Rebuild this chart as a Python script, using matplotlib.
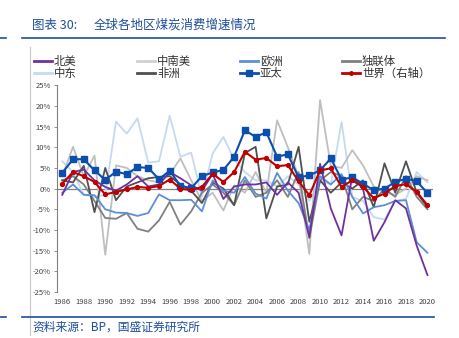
import matplotlib
matplotlib.use("Agg")
import matplotlib.pyplot as plt
from matplotlib.lines import Line2D
import numpy as np

plt.rcParams['font.family'] = ['Noto Sans CJK SC', 'DejaVu Sans']

years = np.arange(1986, 2021)

# 各地区煤炭消费增速 (%)
north_america = [-1.5, 4.0, 4.6, 2.0, 0.4, -0.5, 1.0, 3.0, 0.5, 1.0,
                 4.0, 2.5, 0.8, -0.5, 3.5, -2.5, 0.5, 1.0, 1.0, 1.5,
                 -1.5, 1.5, -1.0, -11.7, 6.0, -4.8, -11.3, 3.0, 0.0, -12.6,
                 -8.1, -2.8, -4.8, -13.8, -20.9]
south_america = [3.0, 10.1, 3.0, 8.0, -16.0, 5.6, 5.0, 3.0, 2.0, 1.5,
                 3.5, 7.3, 2.0, -3.0, -1.0, -5.3, 0.8, -1.0, 4.0, -1.0,
                 16.5, 10.0, 3.0, -15.8, 21.4, 5.5, 5.0, 9.3, 5.6, 0.5,
                 -1.0, -1.5, 0.0, 3.0, 2.0]
europe = [-1.0, 1.0, -1.5, -1.6, -5.0, -5.8, -5.9, -6.6, -5.9, -1.4,
          -2.8, -2.8, -2.7, -5.5, 2.0, -0.5, -1.0, 2.8, -1.2, -2.4,
          3.8, -0.5, -3.5, -10.0, 3.0, 1.0, 3.5, -2.0, -6.0, -4.5,
          -4.0, -3.0, -2.8, -13.0, -15.5]
cis = [2.0, 3.0, 1.0, -3.0, -7.1, -7.3, -5.9, -9.7, -10.4, -7.7,
       -3.2, -8.7, -5.5, -1.0, 1.0, -1.0, -4.0, 2.0, -2.0, -1.0,
       2.0, -2.0, 4.0, -12.0, 2.0, 4.0, 3.0, -5.0, -2.0, -3.0,
       0.0, -2.0, 3.0, -2.0, -5.0]
middle_east = [6.6, 4.0, -1.5, -2.0, -1.5, 16.2, 13.3, 17.0, 6.3, 6.6,
               17.6, 7.7, 8.7, -2.0, 8.5, 12.5, 7.0, 4.0, 2.0, 2.0,
               0.5, 3.0, 1.0, -3.0, 2.0, 1.0, 16.1, -2.0, -3.0, -6.9,
               -7.5, -3.0, -2.5, 4.0, 1.5]
africa = [2.0, 1.5, 5.5, -5.7, 5.0, -2.8, 0.5, 1.5, 2.5, 2.8,
          3.0, 1.0, -0.5, -3.5, 1.5, 0.0, -4.0, 8.6, 10.1, -7.2,
          0.5, 1.0, 10.1, -8.0, 2.0, -1.0, 1.5, 0.0, 2.0, -4.5,
          6.1, -1.0, 6.6, -1.0, -4.5]
asia_pacific = [3.8, 7.1, 7.1, 4.4, 2.1, 4.1, 3.5, 5.2, 5.0, 2.3,
                4.3, 0.7, 0.1, 3.0, 3.9, 4.5, 7.7, 14.1, 12.5, 13.6,
                7.7, 8.3, 2.7, 3.2, 4.4, 7.3, 2.2, 2.7, 1.2, -0.4,
                0.0, 1.6, 2.4, 1.8, -1.1]
world = [1.2, 4.0, 3.0, 1.6, -1.4, -0.8, -0.2, 0.4, 0.2, 0.6,
         2.2, 0.0, -0.4, 0.4, 3.6, 1.6, 4.0, 8.9, 7.0, 7.4,
         5.4, 5.7, 1.8, -1.6, 4.4, 4.9, 0.4, 2.0, 0.4, -2.3,
         -1.2, 0.6, 1.1, -0.8, -4.0]

W, H = 459, 338
fig = plt.figure(figsize=(W / 100, H / 100), dpi=100)
ax = fig.add_axes([0.124, 0.136, 0.819, 0.612])

lw = 1.3
ax.plot(years, middle_east, color="#C5D9F1", lw=lw)
ax.plot(years, south_america, color="#BFBFBF", lw=lw)
ax.plot(years, cis, color="#808080", lw=lw)
ax.plot(years, africa, color="#505050", lw=lw)
ax.plot(years, europe, color="#5B8FD6", lw=lw)
ax.plot(years, north_america, color="#7030A0", lw=lw)
ax.plot(years, asia_pacific, color="#0B4EAE", lw=1.5, marker="s",
        markersize=4.5)

ax2 = ax.twinx()
ax2.plot(years, world, color="#C00000", lw=1.5, marker="o",
         markersize=2.8)

for a in (ax, ax2):
    a.set_ylim(-25, 25)
    a.set_xlim(1985.5, 2020.5)
    for s in ("top", "right", "bottom"):
        a.spines[s].set_visible(False)
ax2.spines["left"].set_visible(False)
ax2.set_yticks([])

ax.axhline(0, color="#808080", lw=0.9, zorder=1)
ax.spines["left"].set_color("#808080")
ax.spines["left"].set_linewidth(0.8)

yt = np.arange(-25, 26, 5)
ax.set_yticks(yt)
ax.set_yticklabels([f"{v}%" for v in yt], fontsize=5.5, color="#404040")
ax.set_xticks(np.arange(1986, 2021, 2))
ax.set_xticklabels([str(y) for y in range(1986, 2021, 2)],
                   fontsize=5.5, color="#404040")
ax.tick_params(axis="y", length=2.5, width=0.6, color="#808080", pad=2)
ax.tick_params(axis="x", length=0, pad=4)

# legend, placed by hand: (x px, y px, label, style)
legend_items = [
    (34, 61, "北美", dict(color="#7030A0")),
    (34, 73, "中东", dict(color="#C5D9F1")),
    (137, 61, "中南美", dict(color="#D0D0D0")),
    (137, 73, "非洲", dict(color="#505050")),
    (240, 61, "欧洲", dict(color="#5B8FD6")),
    (240, 73, "亚太", dict(color="#0B4EAE", marker="s", markersize=4)),
    (342, 61, "独联体", dict(color="#808080")),
    (342, 73, "世界（右轴）", dict(color="#C00000", marker="o", markersize=2.5)),
]
for xp, yp, text, kw in legend_items:
    xs = np.array([xp, xp + 9, xp + 18]) / W
    ys = np.full(3, 1 - yp / H)
    fig.add_artist(Line2D(xs, ys, lw=2, markevery=[1], **kw))
    fig.text((xp + 20) / W, 1 - yp / H, text, fontsize=8.2,
             color="#303030", va="center")

# title, rules and source
title_color = "#1F4E9A"
fig.text(0.07, 0.925, "图表 30:", fontsize=9, color=title_color,
         va="center")
fig.text(0.205, 0.925, "全球各地区煤炭消费增速情况", fontsize=9,
         color=title_color, va="center")
fig.add_artist(Line2D([0.048, 0.97], [0.887, 0.887], color="#1F4EA0", lw=1.2))
fig.add_artist(Line2D([0.0, 0.012], [0.887, 0.887], color="#1F4EA0", lw=1.2))
fig.add_artist(Line2D([0.066, 0.066], [0.86, 0.01], color="#C8C8C8", lw=0.8))
fig.add_artist(Line2D([0.048, 0.945], [0.062, 0.062], color="#1F4EA0", lw=1.2))
fig.add_artist(Line2D([0.0, 0.012], [0.062, 0.062], color="#1F4EA0", lw=1.2))
fig.text(0.07, 0.033, "资料来源：BP，国盛证券研究所", fontsize=8.5,
         color=title_color, va="center")

fig.savefig("out.png", dpi=100)
